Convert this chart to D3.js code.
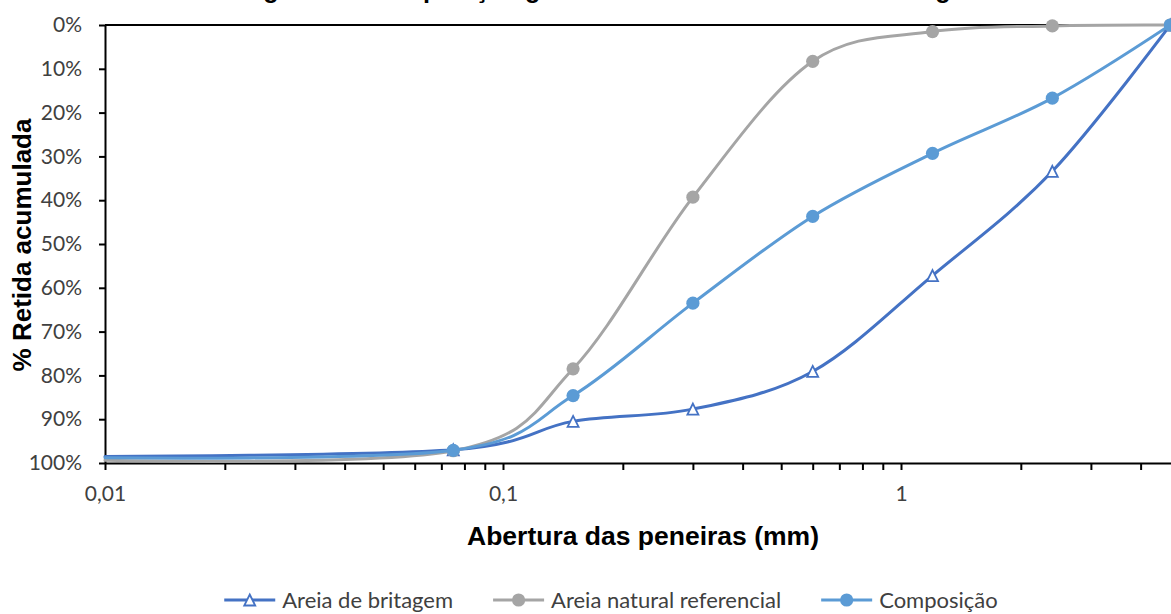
<!DOCTYPE html>
<html>
<head>
<meta charset="utf-8">
<script src="https://cdn.jsdelivr.net/npm/d3@7"></script>
<style>
  body { margin: 0; background: #fff; }
  svg { display: block; }
</style>
</head>
<body>
<svg id="chart" width="1171" height="614"></svg>
<script>
// Sieve openings (mm); the first entry is the pan, drawn without a marker
const sieves = [0.01, 0.075, 0.15, 0.3, 0.6, 1.2, 2.4, 4.75];

// Cumulative retained percentage per sieve
const areiaBritagem = [98.5, 97.0, 90.5, 87.7, 79.1, 57.2, 33.4, 0];
const areiaNatural = [99.4, 97.2, 78.5, 39.3, 8.3, 1.5, 0.2, 0];
const composicao = [98.8, 97.1, 84.6, 63.5, 43.7, 29.3, 16.7, 0];

const seriesNames = ["Areia de britagem", "Areia natural referencial", "Composição"];
const seriesColors = ["#4472C4", "#A5A5A5", "#5B9BD5"];
const seriesMarkers = ["triangle", "circle", "circle"];

const yTicks = [0, 10, 20, 30, 40, 50, 60, 70, 80, 90, 100];
const xMajorTicks = [0.01, 0.1, 1, 10];
const xTickLabels = ["0,01", "0,1", "1", ""];

const chartTitle = "Figura 3 – Composição granulométrica das areias de britagem";
const xTitle = "Abertura das peneiras (mm)";
const yTitle = "% Retida acumulada";

const svg = d3.select("#chart");

const x = d3.scaleLog().domain([0.01, 10]).range([105, 1299]);
const y = d3.scaleLinear().domain([0, 100]).range([25, 463]);

// Minor ticks at 2..9 of each decade
const xMinorTicks = [];
for (let d = 0; d < 3; d++) {
  const base = xMajorTicks[d];
  for (let k = 2; k <= 9; k++) xMinorTicks.push(base * k);
}

const tickFont = "Lato, 'Open Sans', sans-serif";
const titleFont = "'Liberation Sans', Arial, sans-serif";

// Chart title, placed high so the plot keeps the full height
svg.append("text")
  .attr("x", 614)
  .attr("y", -2)
  .attr("text-anchor", "middle")
  .attr("font-family", titleFont)
  .attr("font-weight", "bold")
  .attr("font-size", 25.2)
  .attr("fill", "#000")
  .text(chartTitle);

// Top frame line at 0%
svg.append("line")
  .attr("x1", x(0.01)).attr("x2", x(10))
  .attr("y1", y(0)).attr("y2", y(0))
  .attr("stroke", "#000").attr("stroke-width", 2);

// Y axis
const yAxis = d3.axisLeft(y)
  .tickValues(yTicks)
  .tickFormat(d => d + "%")
  .tickSizeInner(6)
  .tickSizeOuter(0)
  .tickPadding(17);
const gy = svg.append("g").attr("transform", `translate(${x(0.01)},0)`).call(yAxis);
gy.select(".domain").attr("stroke", "#000").attr("stroke-width", 2);
gy.selectAll(".tick line").attr("stroke", "#000").attr("stroke-width", 2);
gy.selectAll(".tick text")
  .attr("font-family", tickFont)
  .attr("font-size", 21)
  .attr("fill", "#404040");

// X axis (log scale) with minor ticks
const xAxis = d3.axisBottom(x)
  .tickValues(xMajorTicks.concat(xMinorTicks))
  .tickFormat(d => {
    const i = xMajorTicks.indexOf(d);
    return i >= 0 ? xTickLabels[i] : "";
  })
  .tickSizeInner(7)
  .tickSizeOuter(0)
  .tickPadding(16);
const gx = svg.append("g").attr("transform", `translate(0,${y(100)})`).call(xAxis);
gx.select(".domain").attr("stroke", "#000").attr("stroke-width", 2);
gx.selectAll(".tick line").attr("stroke", "#000").attr("stroke-width", 2);
gx.selectAll(".tick text")
  .attr("font-family", tickFont)
  .attr("font-size", 21)
  .attr("fill", "#404040");
gx.selectAll(".tick text").filter(function () { return this.textContent === ""; }).remove();

// Axis titles
svg.append("text")
  .attr("x", 643)
  .attr("y", 545)
  .attr("text-anchor", "middle")
  .attr("font-family", titleFont)
  .attr("font-weight", "bold")
  .attr("font-size", 26.5)
  .attr("fill", "#000")
  .text(xTitle);

svg.append("text")
  .attr("transform", "translate(31,245) rotate(-90)")
  .attr("text-anchor", "middle")
  .attr("font-family", titleFont)
  .attr("font-weight", "bold")
  .attr("font-size", 26)
  .attr("fill", "#000")
  .text(yTitle);

// Marker shapes
const triangleSymbol = {
  draw(ctx, size) {
    const h = Math.sqrt(size) / 2;
    ctx.moveTo(0, -h);
    ctx.lineTo(h, h);
    ctx.lineTo(-h, h);
    ctx.closePath();
  }
};

function drawMarker(g, kind, color) {
  if (kind === "triangle") {
    g.append("path")
      .attr("d", d3.symbol(triangleSymbol, 121)())
      .attr("fill", "#fff")
      .attr("stroke", color)
      .attr("stroke-width", 1.8);
  } else {
    g.append("circle")
      .attr("r", 6.6)
      .attr("fill", color);
  }
}

// Series
const seriesValues = [areiaBritagem, areiaNatural, composicao];
const line = d3.line()
  .x(d => x(d.s))
  .y(d => y(d.v))
  .curve(d3.curveCardinal.tension(0));

seriesValues.forEach((vals, i) => {
  const pts = sieves.map((s, j) => ({ s, v: vals[j] }));
  const g = svg.append("g");
  g.append("path")
    .datum(pts)
    .attr("d", line)
    .attr("fill", "none")
    .attr("stroke", seriesColors[i])
    .attr("stroke-width", 3)
    .attr("stroke-linejoin", "round")
    .attr("stroke-linecap", "round");
  pts.slice(1).forEach(p => {
    const mg = g.append("g").attr("transform", `translate(${x(p.s)},${y(p.v)})`);
    drawMarker(mg, seriesMarkers[i], seriesColors[i]);
  });
});

// Legend
const legend = svg.append("g");
const items = [];
seriesNames.forEach((name, i) => {
  const g = legend.append("g");
  g.append("line")
    .attr("x1", 0).attr("x2", 51)
    .attr("y1", 0).attr("y2", 0)
    .attr("stroke", seriesColors[i]).attr("stroke-width", 3);
  const mg = g.append("g").attr("transform", "translate(25.5,0)");
  drawMarker(mg, seriesMarkers[i], seriesColors[i]);
  const t = g.append("text")
    .attr("x", 58)
    .attr("y", 0)
    .attr("dy", "0.35em")
    .attr("font-family", tickFont)
    .attr("font-size", 22)
    .attr("fill", "#404040")
    .text(name);
  const w = 58 + t.node().getComputedTextLength();
  items.push({ g, w });
});
const gap = 40;
const total = d3.sum(items, d => d.w) + gap * (items.length - 1);
let lx = 611 - total / 2;
items.forEach(it => {
  it.g.attr("transform", `translate(${lx},600)`);
  lx += it.w + gap;
});
</script>
</body>
</html>
